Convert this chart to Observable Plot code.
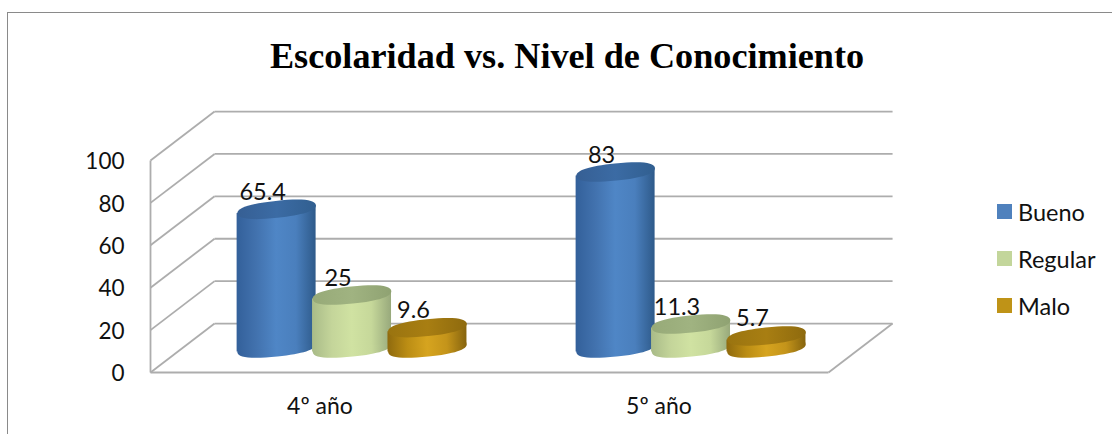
<!DOCTYPE html>
<html><head><meta charset="utf-8">
<script src="https://cdn.jsdelivr.net/npm/d3@7"></script>
<script src="https://cdn.jsdelivr.net/npm/@observablehq/plot@0.6"></script>
<style>
html,body{margin:0;padding:0;background:#fff;overflow:hidden}
#wrap{position:relative;width:1112px;height:434px;overflow:hidden}
#frame{position:absolute;left:7px;top:12px;right:-4px;bottom:-4px;border:1.5px solid #8a8a8a;box-sizing:border-box}
#title{position:absolute;left:0;width:1134px;top:35px;margin:0;text-align:center;font:bold 36.2px "Liberation Serif",serif;color:#000;white-space:nowrap}
#legend{position:absolute;left:997px;top:0;font:23.5px Lato,sans-serif;color:#111}
.item{position:absolute;left:0;white-space:nowrap;line-height:26px;height:26px}
.sw{position:absolute;left:0;top:5px;width:15px;height:15px}
.lb{position:absolute;left:21px;top:0}
svg{position:absolute;left:0;top:0}
</style></head>
<body><div id="wrap"><div id="frame"></div><h1 id="title"></h1><div id="legend"></div></div>
<script>
const chartTitle = "Escolaridad vs. Nivel de Conocimiento";
const categories = ["4º año", "5º año"];
const seriesNames = ["Bueno", "Regular", "Malo"];
const bueno = [65.4, 83];
const regular = [25, 11.3];
const malo = [9.6, 5.7];
const yTicks = [0, 20, 40, 60, 80, 100];
const legendColors = ["#4f81bd", "#c3d69b", "#bf9317"];
const seriesValues = [bueno, regular, malo];

// depth of the 3-D box and cylinder shape, in scale units
const depthX = 0.189, depthY = 23.1, spacing = 0.2225, halfW = 0.1165, tilt = 1.9;

const rows = categories.flatMap((c, g) => seriesNames.map((s, i) => ({
  id: g + "-" + i, s: i, value: seriesValues[i][g],
  cx: g + 0.5 + depthX / 2 + (i - 1) * spacing,
  base: depthY / 2
})));
const sides = rows.flatMap(r => [
  {id: r.id, x: r.cx - halfW, y1: r.base - tilt, y2: r.base + r.value - tilt},
  {id: r.id, x: r.cx + halfW, y1: r.base + tilt, y2: r.base + r.value + tilt}
]);

const ellipse = {draw(ctx, size) {
  const a = Math.sqrt(size / Math.PI), b = a * 0.215, th = -6 * Math.PI / 180, k = 0.66;
  const cs = Math.cos(th), sn = Math.sin(th);
  const P = (x, y) => [x * cs - y * sn, x * sn + y * cs];
  ctx.moveTo(...P(a, 0));
  ctx.bezierCurveTo(...P(a, k*b), ...P(k*a, b), ...P(0, b));
  ctx.bezierCurveTo(...P(-k*a, b), ...P(-a, k*b), ...P(-a, 0));
  ctx.bezierCurveTo(...P(-a, -k*b), ...P(-k*a, -b), ...P(0, -b));
  ctx.bezierCurveTo(...P(k*a, -b), ...P(a, -k*b), ...P(a, 0));
  ctx.closePath();
}};

const grads = [
  {id: "g0", s: ["#33609a", "#4272ae", "#4f86c6", "#4a7fbd", "#2e5a8a"], t: ["#365f94", "#3b6ba4", "#315f90"]},
  {id: "g1", s: ["#a9bb88", "#c4d59a", "#d0e2a2", "#c6d89a", "#98a97c"], t: ["#97aa78", "#a0b381", "#8fa272"]},
  {id: "g2", s: ["#8f6a0e", "#bb8d14", "#d6a41f", "#c4941a", "#86640e"], t: ["#9a7410", "#a87e12", "#8e6a0e"]}
];
const defs = () => {
  const d = d3.create("svg:defs");
  for (const g of grads) for (const [k, stops] of [["s", g.s], ["t", g.t]]) {
    const lg = d.append("linearGradient").attr("id", g.id + k).attr("x1", 0).attr("x2", 1).attr("y1", 0).attr("y2", 0);
    stops.forEach((c, i) => lg.append("stop").attr("offset", i / (stops.length - 1)).attr("stop-color", c));
  }
  return d.node();
};

const gridStyle = {stroke: "#adadad", strokeWidth: 1.8};
const cylinders = rows.flatMap(r => [
  Plot.dot([r], {x: "cx", y: "base", r: 39.5, symbol: ellipse, fill: `url(#g${r.s}s)`, stroke: "none"}),
  Plot.areaY(sides.filter(d => d.id === r.id), {x: "x", y1: "y1", y2: "y2", fill: `url(#g${r.s}s)`, curve: "linear"}),
  Plot.dot([r], {x: "cx", y: d => d.base + d.value, r: 39.5, symbol: ellipse, fill: `url(#g${r.s}t)`, stroke: "none"})
]);

const chart = Plot.plot({
  width: 1112, height: 434,
  marginLeft: 150, marginRight: 284, marginTop: 160, marginBottom: 62,
  style: {background: "transparent", overflow: "visible"},
  x: {domain: [0, 2], range: [150, 828]},
  y: {domain: [0, 100], range: [372, 160]},
  marks: [
    defs,
    Plot.link(yTicks, {x1: 0, y1: d => d, x2: depthX, y2: d => d + depthY, ...gridStyle}),
    Plot.link(yTicks, {x1: depthX, y1: d => d + depthY, x2: 2 + depthX, y2: d => d + depthY, ...gridStyle}),
    Plot.link([0], {x1: 0, y1: 0, x2: 0, y2: 100, ...gridStyle}),
    Plot.link([0], {x1: 0, y1: 0, x2: 2, y2: 0, ...gridStyle}),
    Plot.link([0], {x1: 2, y1: 0, x2: 2 + depthX, y2: depthY, ...gridStyle}),
    ...cylinders,
    Plot.text(rows, {x: "cx", y: d => d.base + d.value, text: d => String(d.value), dx: -14, dy: -17,
      fontFamily: "Lato, sans-serif", fontSize: 23.5, fill: "#111"}),
    Plot.axisY({ticks: yTicks, tickSize: 0, tickPadding: 26, tickFormat: d => d, label: null, dy: 1.5,
      fontFamily: "Lato, sans-serif", fontSize: 22.5, fill: "#111"}),
    Plot.axisX({ticks: categories.map((c, i) => i + 0.5), tickSize: 0, tickPadding: 25,
      tickFormat: d => categories[d - 0.5], label: null,
      fontFamily: "Lato, sans-serif", fontSize: 23, fill: "#111"})
  ]
});
document.getElementById("wrap").appendChild(chart);
document.getElementById("title").textContent = chartTitle;
const legend = document.getElementById("legend");
const legendY = [199, 246, 293];
seriesNames.forEach((n, i) => {
  const it = document.createElement("div");
  it.className = "item"; it.style.top = legendY[i] + "px";
  it.innerHTML = `<span class="sw" style="background:${legendColors[i]}"></span><span class="lb">${n}</span>`;
  legend.appendChild(it);
});
</script></body></html>
